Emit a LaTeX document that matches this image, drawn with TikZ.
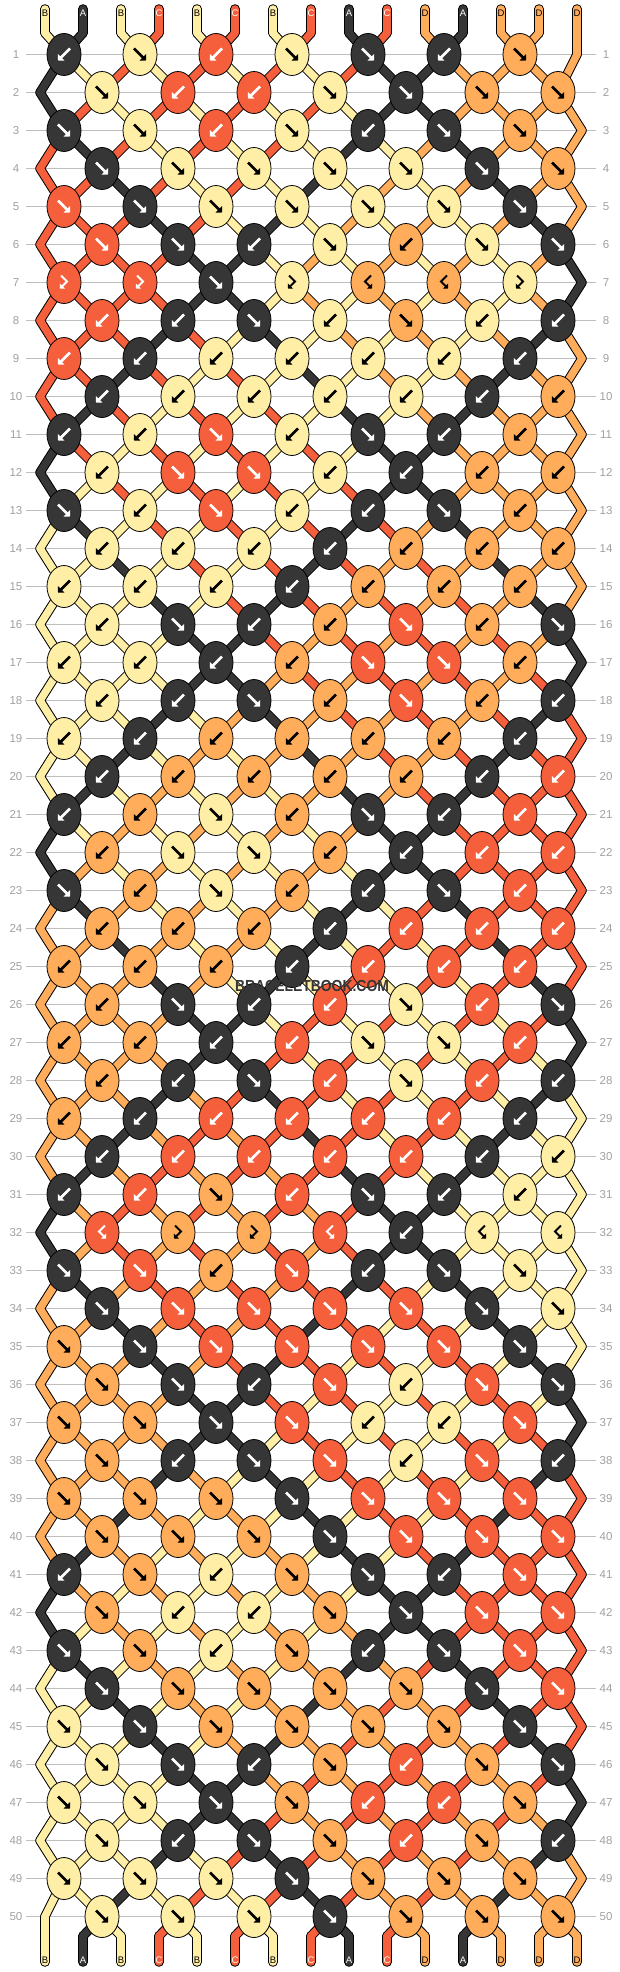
\documentclass[tikz,border=0pt]{standalone}
\usepackage{fontspec}
\setmainfont{Liberation Sans}
\usetikzlibrary{shapes.geometric}
\usetikzlibrary{arrows.meta}
\usepackage{xcolor}

\definecolor{colA}{HTML}{363636}
\definecolor{colB}{HTML}{FFEEA5}
\definecolor{colC}{HTML}{F55F3C}
\definecolor{colD}{HTML}{FFAD5A}
\definecolor{gridgray}{HTML}{BEBEBE}
\definecolor{numgray}{HTML}{A0A0A0}
\def\arrA{white}\def\arrB{black}\def\arrC{white}\def\arrD{black}

\pgfdeclarelayer{rowgrid}
\pgfdeclarelayer{strout}
\pgfdeclarelayer{strfill}
\pgfsetlayers{rowgrid,strout,strfill,main}

% colour of the string at each position
\newcommand\setstr[2]{\expandafter\xdef\csname str#1\endcsname{#2}}
\newcommand\getstr[1]{\csname str#1\endcsname}

% point holding position #2 in row #1
\newcommand\ptname[2]{%
  \ifnum#1=0 t-#2\else
  \ifnum#1=51 b-#2\else
  \ifodd#1
    \ifnum#2=15 e-#1\else k-#1-\the\numexpr#2/2\relax\fi
  \else
    \ifnum#2=1 e-#1\else k-#1-\the\numexpr(#2-1)/2\relax\fi
  \fi\fi\fi}

% string pieces are collected and drawn at the end, under the knots
\gdef\outlist{}\gdef\filllist{}
\newcommand\addseg[3]{%
  \xdef\outlist{\unexpanded\expandafter{\outlist}\noexpand\draw[strout] (#1.center) -- (#2.center);}%
  \xdef\filllist{\unexpanded\expandafter{\filllist}\noexpand\draw[strfill=col#3] (#1.center) -- (#2.center);}}

% string piece from row #1 to row #2 at position #3
\newcommand\drawseg[3]{%
  \edef\ptA{\ptname{#1}{#3}}\edef\ptB{\ptname{#2}{#3}}\edef\segcol{\getstr{#3}}%
  \addseg{\ptA}{\ptB}{\segcol}}

% knot #2 of row #1, type #3 (f, b, F = fb, B = bf)
\newcommand\doknot[3]{%
  \ifodd#1 \edef\lp{\the\numexpr2*#2-1\relax}\else\edef\lp{\the\numexpr2*#2\relax}\fi
  \edef\rp{\the\numexpr\lp+1\relax}%
  \edef\sL{\getstr{\lp}}\edef\sR{\getstr{\rp}}%
  \if#3f\let\sK\sL\else\if#3F\let\sK\sL\else\let\sK\sR\fi\fi
  \ifodd#1 \pgfmathsetmacro\kx{64+76*(#2-1)}\else\pgfmathsetmacro\kx{102+76*(#2-1)}\fi
  \node[knotnode, fill=col\sK] (k-#1-#2) at (\kx,\ry) {};
  \edef\gc{\csname arr\sK\endcsname}%
  \if#3f\draw[glyph=\gc] ({\kx-6},{\ry-6}) -- ({\kx+6},{\ry+6});\fi
  \if#3b\draw[glyph=\gc] ({\kx+6},{\ry-6}) -- ({\kx-6},{\ry+6});\fi
  \if#3F\draw[bentglyph=\gc] ({\kx-3},{\ry-7}) -- ({\kx+3},{\ry-1}) -- ({\kx-4},{\ry+6});\fi
  \if#3B\draw[bentglyph=\gc] ({\kx+3},{\ry-7}) -- ({\kx-3},{\ry-1}) -- ({\kx+4},{\ry+6});\fi
  \drawseg{\rprev}{#1}{\lp}\drawseg{\rprev}{#1}{\rp}%
  \if#3f\setstr{\lp}{\sR}\setstr{\rp}{\sL}\fi
  \if#3b\setstr{\lp}{\sR}\setstr{\rp}{\sL}\fi}

% one row of seven knots
\newcommand\knotrow[8]{%
  \pgfmathsetmacro\ry{54.5+38*(#1-1)}%
  \edef\rprev{\the\numexpr#1-1\relax}%
  \ifodd#1 \def\ex{582}\else\def\ex{40}\fi
  \ifnum#1=1 \def\ex{577}\fi
  \ifnum#1=50 \def\ex{45}\fi
  \coordinate (e-#1) at (\ex,\ry);
  \doknot{#1}{1}{#2}\doknot{#1}{2}{#3}\doknot{#1}{3}{#4}\doknot{#1}{4}{#5}%
  \doknot{#1}{5}{#6}\doknot{#1}{6}{#7}\doknot{#1}{7}{#8}%
  \ifodd#1 \drawseg{\rprev}{#1}{15}\else\drawseg{\rprev}{#1}{1}\fi}

\begin{document}
\begin{tikzpicture}[x=1pt, y=-1pt,
  knotnode/.style={ellipse, draw=black, line width=0.8pt, minimum width=34pt, minimum height=42pt, inner sep=0pt},
  glyph/.style={draw=#1, line width=2.6pt, -{Triangle[length=4.5pt,width=9pt]}},
  bentglyph/.style={draw=#1, line width=2pt, -{Triangle[length=3.5pt,width=7pt]}},
  strout/.style={draw=black, line width=9.5pt, line cap=round},
  strfill/.style={draw=#1, line width=7.5pt, line cap=round},
  rowline/.style={draw=gridgray, line width=1pt},
  rownum/.style={text=numgray, font=\fontsize{11.5}{11.5}\selectfont, inner sep=0pt},
  endlabel/.style={font=\fontsize{9.5}{9.5}\selectfont, inner sep=0pt}]
\useasboundingbox (0,0) rectangle (620,1972);

% row lines and numbers
\begin{pgfonlayer}{rowgrid}
\foreach \r in {1,...,50} {
  \pgfmathsetmacro\ly{54.5+38*(\r-1)}
  \draw[rowline] (26,\ly) -- (596,\ly);
  \node[rownum] (nl-\r) at (16,\ly) {\r};
  \node[rownum] (nr-\r) at (606,\ly) {\r};
}
\end{pgfonlayer}

% string tops
\foreach \c [count=\p] in {B,A,B,C,B,C,B,C,A,C,D,A,D,D,D} {
  \setstr{\p}{\c}
  \pgfmathsetmacro\sx{45+38*(\p-1)}
  \coordinate (t-\p) at (\sx,33);
  \coordinate (tt-\p) at (\sx,9);
  \addseg{tt-\p}{t-\p}{\c}
  \node[endlabel, text=\csname arr\c\endcsname] (lt-\p) at (\sx,13) {\c};
}

\knotrow{1}{b}{f}{b}{f}{f}{b}{f}
\knotrow{2}{f}{b}{b}{f}{f}{f}{f}
\knotrow{3}{f}{f}{b}{f}{b}{f}{f}
\knotrow{4}{f}{f}{f}{f}{f}{f}{f}
\knotrow{5}{f}{f}{f}{f}{f}{f}{f}
\knotrow{6}{f}{f}{b}{f}{b}{f}{f}
\knotrow{7}{F}{F}{f}{F}{B}{B}{F}
\knotrow{8}{b}{b}{f}{b}{f}{b}{b}
\knotrow{9}{b}{b}{b}{b}{b}{b}{b}
\knotrow{10}{b}{b}{b}{b}{b}{b}{b}
\knotrow{11}{b}{b}{f}{b}{f}{b}{b}
\knotrow{12}{b}{f}{f}{b}{b}{b}{b}
\knotrow{13}{f}{b}{f}{b}{b}{f}{b}
\knotrow{14}{b}{b}{b}{b}{b}{b}{b}
\knotrow{15}{b}{b}{b}{b}{b}{b}{b}
\knotrow{16}{b}{f}{b}{b}{f}{b}{f}
\knotrow{17}{b}{b}{b}{b}{f}{f}{b}
\knotrow{18}{b}{b}{f}{b}{f}{b}{b}
\knotrow{19}{b}{b}{b}{b}{b}{b}{b}
\knotrow{20}{b}{b}{b}{b}{b}{b}{b}
\knotrow{21}{b}{b}{f}{b}{f}{b}{b}
\knotrow{22}{b}{f}{f}{b}{b}{b}{b}
\knotrow{23}{f}{b}{f}{b}{b}{f}{b}
\knotrow{24}{b}{b}{b}{b}{b}{b}{b}
\knotrow{25}{b}{b}{b}{b}{b}{b}{b}
\knotrow{26}{b}{f}{b}{b}{f}{b}{f}
\knotrow{27}{b}{b}{b}{b}{f}{f}{b}
\knotrow{28}{b}{b}{f}{b}{f}{b}{b}
\knotrow{29}{b}{b}{b}{b}{b}{b}{b}
\knotrow{30}{b}{b}{b}{b}{b}{b}{b}
\knotrow{31}{b}{b}{f}{b}{f}{b}{b}
\knotrow{32}{B}{F}{F}{B}{b}{B}{B}
\knotrow{33}{f}{f}{b}{f}{b}{f}{f}
\knotrow{34}{f}{f}{f}{f}{f}{f}{f}
\knotrow{35}{f}{f}{f}{f}{f}{f}{f}
\knotrow{36}{f}{f}{b}{f}{b}{f}{f}
\knotrow{37}{f}{f}{f}{f}{b}{b}{f}
\knotrow{38}{f}{b}{f}{f}{b}{f}{b}
\knotrow{39}{f}{f}{f}{f}{f}{f}{f}
\knotrow{40}{f}{f}{f}{f}{f}{f}{f}
\knotrow{41}{b}{f}{b}{f}{f}{b}{f}
\knotrow{42}{f}{b}{b}{f}{f}{f}{f}
\knotrow{43}{f}{f}{b}{f}{b}{f}{f}
\knotrow{44}{f}{f}{f}{f}{f}{f}{f}
\knotrow{45}{f}{f}{f}{f}{f}{f}{f}
\knotrow{46}{f}{f}{b}{f}{b}{f}{f}
\knotrow{47}{f}{f}{f}{f}{b}{b}{f}
\knotrow{48}{f}{b}{f}{f}{b}{f}{b}
\knotrow{49}{f}{f}{f}{f}{f}{f}{f}
\knotrow{50}{f}{f}{f}{f}{f}{f}{f}

% string ends
\foreach \p in {1,...,15} {
  \pgfmathsetmacro\sx{45+38*(\p-1)}
  \coordinate (b-\p) at (\sx,1936);
  \coordinate (bb-\p) at (\sx,1962);
}
\foreach \p in {1,...,15} {
  \pgfmathsetmacro\sx{45+38*(\p-1)}
  \drawseg{50}{51}{\p}
  \edef\endcol{\getstr{\p}}
  \addseg{b-\p}{bb-\p}{\endcol}
  \node[endlabel, text=\csname arr\endcol\endcsname] (lb-\p) at (\sx,1960) {\endcol};
}

\begin{pgfonlayer}{strout}\outlist\end{pgfonlayer}
\begin{pgfonlayer}{strfill}\filllist\end{pgfonlayer}

\node[font=\bfseries\fontsize{16}{16}\selectfont, text=colA] (mark) at (312,986) {\scalebox{0.87}[1]{BRACELETBOOK.COM}};
\end{tikzpicture}
\end{document}
